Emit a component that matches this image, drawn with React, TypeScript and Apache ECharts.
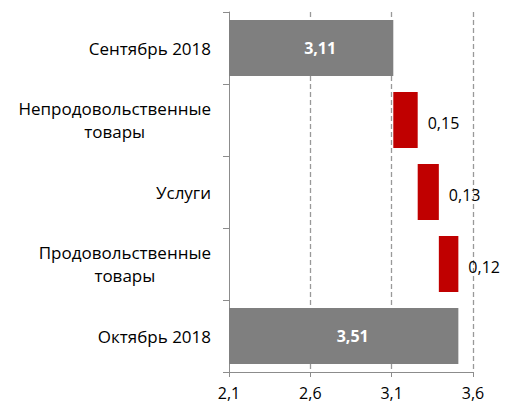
import React, { useEffect, useRef } from "react";
import * as echarts from "echarts";

const categories = [
  "Сентябрь 2018",
  "Непродовольственные\nтовары",
  "Услуги",
  "Продовольственные\nтовары",
  "Октябрь 2018",
];
// kind: total bars are levels, change bars are increments
const kinds = ["total", "change", "change", "change", "total"];
const values = [3.11, 0.15, 0.13, 0.12, 3.51];
const axisTicks = [2.1, 2.6, 3.1, 3.6];

const AXIS_MIN = 2.1;
const AXIS_MAX = 3.6;
const GRAY = "#7f7f7f";
const RED = "#c00000";
const FONT = "'Open Sans', 'Noto Sans', sans-serif";

const fmt = (v: number, d: number) => v.toFixed(d).replace(".", ",");

function buildSeriesData() {
  const base: number[] = [];
  const shown: any[] = [];
  let level = AXIS_MIN;
  values.forEach((v, i) => {
    if (kinds[i] === "total") {
      base.push(AXIS_MIN);
      shown.push({
        value: +(v - AXIS_MIN).toFixed(4),
        itemStyle: { color: GRAY },
        label: { position: "inside", color: "#fff", fontWeight: "bold", offset: [9, 0] },
      });
      level = v;
    } else {
      base.push(level);
      shown.push({
        value: v,
        itemStyle: { color: RED },
        label: { position: "right", distance: 10, color: "#000", offset: [0, 3] },
      });
      level = +(level + v).toFixed(4);
    }
  });
  return { base, shown };
}

export default function App() {
  const ref = useRef<HTMLDivElement>(null);
  useEffect(() => {
    if (!ref.current) return;
    const chart = echarts.init(ref.current, null, { renderer: "svg" });
    const { base, shown } = buildSeriesData();
    chart.setOption({
      animation: false,
      grid: { left: 229, right: 42, top: 12, bottom: 33, containLabel: false, outerBoundsMode: "none" },
      xAxis: {
        type: "value",
        min: AXIS_MIN,
        max: AXIS_MAX,
        axisLine: { show: true, lineStyle: { color: "#8c8c8c", width: 1 } },
        axisTick: { show: true, length: 5, customValues: axisTicks, lineStyle: { color: "#8c8c8c" } },
        axisLabel: {
          customValues: axisTicks,
          formatter: (v: number) => fmt(v, 1),
          color: "#000",
          fontFamily: FONT,
          fontSize: 16,
          margin: 13,
        },
        splitLine: {
          show: true,
          showMinLine: false,
          lineStyle: { color: "#999", type: [5, 3], width: 1.3 },
        },
      },
      yAxis: {
        type: "category",
        inverse: true,
        data: categories,
        axisLine: { show: true, lineStyle: { color: "#8c8c8c", width: 1 } },
        axisTick: { show: true, length: 6, lineStyle: { color: "#8c8c8c" } },
        axisLabel: {
          margin: 18,
          formatter: (v: string) =>
            v.split("\n").map((l) => `{c|${l}}`).join("\n"),
          rich: {
            c: { align: "center", fontFamily: FONT, fontSize: 17, color: "#000", lineHeight: 23 },
          },
        },
      },
      series: [
        {
          type: "bar",
          stack: "w",
          data: base,
          silent: true,
          itemStyle: { color: "transparent" },
          barCategoryGap: "22%",
        },
        {
          type: "bar",
          stack: "w",
          data: shown,
          barCategoryGap: "22%",
          label: {
            show: true,
            fontFamily: FONT,
            fontSize: 16,
            formatter: (p: any) => fmt(values[p.dataIndex], 2),
          },
        },
      ],
    });
    return () => chart.dispose();
  }, []);
  return <div ref={ref} style={{ width: 515, height: 405, position: "absolute", left: 0, top: 0 }} />;
}
